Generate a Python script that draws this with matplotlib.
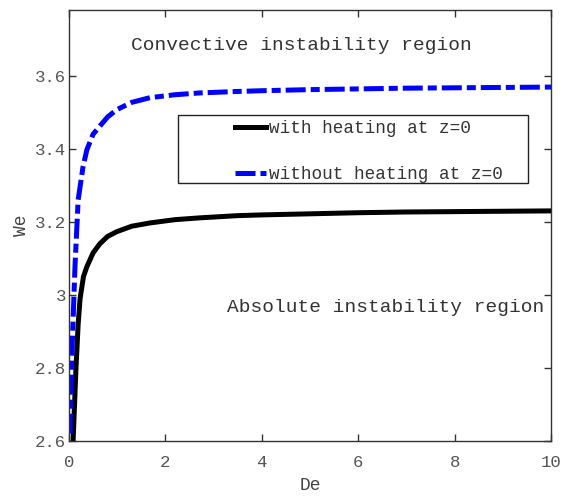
import numpy as np
import matplotlib
matplotlib.use("Agg")
import matplotlib.pyplot as plt
from matplotlib.patches import Rectangle

plt.rcParams["font.family"] = ["Liberation Mono", "DejaVu Sans Mono"]
plt.rcParams["lines.scale_dashes"] = False

# values
de_heat = [0.085, 0.145, 0.19, 0.23, 0.3, 0.37, 0.5, 0.64, 0.8, 0.99, 1.3, 1.68, 2.2, 2.72, 3.5, 4, 5, 6, 7, 8, 9, 10]
we_heat = [2.6, 2.8, 2.92, 2.99, 3.05, 3.077, 3.115, 3.14, 3.16, 3.173, 3.188, 3.197, 3.206, 3.211, 3.217, 3.219, 3.222, 3.225, 3.227, 3.228, 3.229, 3.23]

de_noheat = [0.02, 0.035, 0.076, 0.125, 0.19, 0.23, 0.29, 0.37, 0.5, 0.64, 0.8, 0.99, 1.3, 1.68, 2.2, 2.72, 3.5, 4, 5, 6, 7, 8, 9, 10]
we_noheat = [2.62, 2.71, 2.9, 3.08, 3.26, 3.296, 3.35, 3.397, 3.44, 3.462, 3.487, 3.507, 3.527, 3.54, 3.548, 3.553, 3.557, 3.559, 3.562, 3.564, 3.566, 3.567, 3.568, 3.569]

xticks = [0, 2, 4, 6, 8, 10]
yticks = [2.6, 2.8, 3.0, 3.2, 3.4, 3.6]
ytick_labels = ["2.6", "2.8", "3", "3.2", "3.4", "3.6"]

fig = plt.figure(figsize=(5.64, 4.98), dpi=100)
ax = fig.add_axes([69 / 564, 57 / 498, 482 / 564, 431 / 498])

ax.plot(de_heat, we_heat, color="black", linewidth=3.6, label="with heating at z=0")
ax.plot(de_noheat, we_noheat, color="blue", linewidth=3.6,
        dashes=(14.4, 3.6, 6.5, 3.6), dash_capstyle="butt",
        label="without heating at z=0")

ax.set_xlim(0, 10)
ax.set_ylim(2.6, 3.78)
ax.set_xticks(xticks)
ax.set_xticklabels([str(t) for t in xticks])
ax.set_yticks(yticks)
ax.set_yticklabels(ytick_labels)
ax.tick_params(direction="in", top=True, right=True, length=5, width=1,
               labelsize=12.5, colors="#333333", labelcolor="#555555")
ax.tick_params(axis="x", pad=10)
ax.tick_params(axis="y", pad=2)
for s in ax.spines.values():
    s.set_color("#333333")
    s.set_linewidth(1)

ax.set_xlabel("De", fontsize=13, color="#444444", labelpad=5)
ax.set_ylabel("We", fontsize=13, color="#444444", labelpad=4)

ax.text(0.483, 0.917, "Convective instability region", transform=ax.transAxes,
        ha="center", va="center", fontsize=14, color="#333333")
ax.text(0.985, 0.31, "Absolute instability region", transform=ax.transAxes,
        ha="right", va="center", fontsize=14, color="#333333")

# legend entries without their own frame, the box is drawn wider like the original
leg = ax.legend(loc="center", bbox_to_anchor=(0.622, 0.672), fontsize=12.7,
                frameon=False, handlelength=1.8, handletextpad=0.15,
                labelspacing=1.65, borderpad=0, borderaxespad=0)
for t in leg.get_texts():
    t.set_color("#333333")
leg._legend_box.align = "left"
ax.add_patch(Rectangle((0.226, 0.599), 0.726, 0.157, transform=ax.transAxes,
                       fill=False, edgecolor="#222222", linewidth=1, zorder=4))

fig.savefig("out.png", dpi=100)
